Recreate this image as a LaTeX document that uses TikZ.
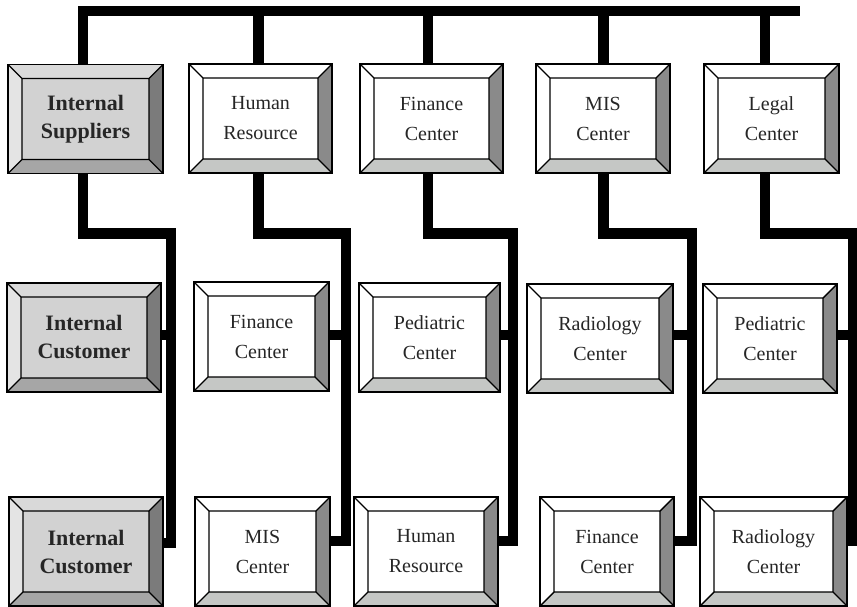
\documentclass[tikz,border=0pt]{standalone}
\usepackage{fontspec}
\setmainfont{Liberation Serif}
\usetikzlibrary{calc}

\definecolor{ink}{HTML}{262626}
% faces of the plain (white) boxes
\definecolor{wR}{HTML}{8A8A8A}
\definecolor{wB}{HTML}{C5C7C5}
% faces of the shaded boxes
\definecolor{gT}{HTML}{D9D9D9}
\definecolor{gL}{HTML}{E4E4E4}
\definecolor{gR}{HTML}{7B7B7B}
\definecolor{gB}{HTML}{A6A6A6}
\definecolor{gI}{HTML}{D2D2D2}

% bevelled frame: #1 top, #2 left, #3 right, #4 bottom, #5 face
\newcommand\bevelfaces[5]{%
  \path (path picture bounding box.north west) coordinate (bvNW)
        (path picture bounding box.north east) coordinate (bvNE)
        (path picture bounding box.south east) coordinate (bvSE)
        (path picture bounding box.south west) coordinate (bvSW)
        ([shift={(14pt,-14pt)}]path picture bounding box.north west) coordinate (bvnw)
        ([shift={(-14pt,-14pt)}]path picture bounding box.north east) coordinate (bvne)
        ([shift={(-14pt,14pt)}]path picture bounding box.south east) coordinate (bvse)
        ([shift={(14pt,14pt)}]path picture bounding box.south west) coordinate (bvsw);
  \fill[#1] (bvNW) -- (bvNE) -- (bvne) -- (bvnw) -- cycle;
  \fill[#2] (bvNW) -- (bvnw) -- (bvsw) -- (bvSW) -- cycle;
  \fill[#3] (bvNE) -- (bvSE) -- (bvse) -- (bvne) -- cycle;
  \fill[#4] (bvSW) -- (bvsw) -- (bvse) -- (bvSE) -- cycle;
  \fill[#5] (bvnw) rectangle (bvse);
  \draw[black, line width=1.4pt, line join=miter] (bvnw) rectangle (bvse)
     (bvNW) -- (bvnw) (bvNE) -- (bvne) (bvSE) -- (bvse) (bvSW) -- (bvsw);
}

\begin{document}
\begin{tikzpicture}[x=1pt, y=-1pt,
  box/.style={draw=black, line width=1.5pt, rectangle, inner sep=0pt,
              minimum height=109pt, align=center, text=ink},
  wbox/.style={box, font=\fontsize{20}{30}\selectfont,
               path picture={\bevelfaces{white}{white}{wR}{wB}{white}}},
  gbox/.style={box, font=\bfseries\fontsize{22}{28}\selectfont,
               path picture={\bevelfaces{gT}{gL}{gR}{gB}{gI}}},
  wire/.style={draw=black, line width=10.5pt, line join=miter}]

\useasboundingbox (0,0) rectangle (857,607);

% suppliers row
\node[gbox, minimum width=155pt] (A1) at (85.5,119)  {Internal\\Suppliers};
\node[wbox, minimum width=143pt] (B1) at (260.5,118.5) {Human\\Resource};
\node[wbox, minimum width=143pt] (C1) at (431.5,118.5) {Finance\\Center};
\node[wbox, minimum width=134pt] (D1) at (603,118.5)   {MIS\\Center};
\node[wbox, minimum width=135pt] (E1) at (771.5,118.5) {Legal\\Center};

% first customer row
\node[gbox, minimum width=154pt] (A2) at (84,337.5)    {Internal\\Customer};
\node[wbox, minimum width=135pt] (B2) at (261.5,336.5) {Finance\\Center};
\node[wbox, minimum width=141pt] (C2) at (429.5,337.5) {Pediatric\\Center};
\node[wbox, minimum width=146pt] (D2) at (600,338.5)   {Radiology\\Center};
\node[wbox, minimum width=134pt] (E2) at (770,338.5)   {Pediatric\\Center};

% second customer row
\node[gbox, minimum width=154pt] (A3) at (86,551.5)    {Internal\\Customer};
\node[wbox, minimum width=135pt] (B3) at (262.5,551.5) {MIS\\Center};
\node[wbox, minimum width=144pt] (C3) at (426,551.5)   {Human\\Resource};
\node[wbox, minimum width=134pt] (D3) at (607,551.5)   {Finance\\Center};
\node[wbox, minimum width=147pt] (E3) at (773.5,551.5) {Radiology\\Center};

% bus levels and riser positions
\coordinate (bus) at (0,11);
\coordinate (busend) at (800,11);
\coordinate (jog) at (0,233.5);
\coordinate (v1) at (171,0);
\coordinate (v2) at (346,0);
\coordinate (v3) at (513,0);
\coordinate (v4) at (692,0);
\coordinate (v5) at (853,0);

% stub points on the top and bottom of the supplier boxes
\coordinate (tA) at ([xshift=-2.5pt]A1.north);
\coordinate (tB) at ([xshift=-2pt]B1.north);
\coordinate (tC) at ([xshift=-3.5pt]C1.north);
\coordinate (tD) at ([xshift=0.5pt]D1.north);
\coordinate (tE) at ([xshift=-6.5pt]E1.north);
\coordinate (bA) at ([xshift=-2.5pt]A1.south);
\coordinate (bB) at ([xshift=-2pt]B1.south);
\coordinate (bC) at ([xshift=-3.5pt]C1.south);
\coordinate (bD) at ([xshift=0.5pt]D1.south);
\coordinate (bE) at ([xshift=-6.5pt]E1.south);

% side stubs on the customer boxes
\coordinate (mA) at ([yshift=2.5pt]A2.east);
\coordinate (mB) at ([yshift=1.5pt]B2.east);
\coordinate (mC) at ([yshift=2.5pt]C2.east);
\coordinate (mD) at ([yshift=3.5pt]D2.east);
\coordinate (mE) at ([yshift=3.5pt]E2.east);
\coordinate (rA) at ([yshift=8.5pt]A3.east);
\coordinate (rB) at ([yshift=10.5pt]B3.east);
\coordinate (rC) at ([yshift=10.5pt]C3.east);
\coordinate (rD) at ([yshift=10.5pt]D3.east);
\coordinate (rE) at ([yshift=10.5pt]E3.east);

% top bus
\draw[wire] (tA) |- (busend);
\foreach \s in {tB,tC,tD,tE} \draw[wire] (\s) -- (\s |- bus);

% supplier-to-customer chains
\draw[wire] (bA) |- (v1 |- jog) -- (v1 |- rA) -- (rA);
\draw[wire] (bB) |- (v2 |- jog) -- (v2 |- rB) -- (rB);
\draw[wire] (bC) |- (v3 |- jog) -- (v3 |- rC) -- (rC);
\draw[wire] (bD) |- (v4 |- jog) -- (v4 |- rD) -- (rD);
\draw[wire] (bE) |- (v5 |- jog) -- (v5 |- rE) -- (rE);

\draw[wire] (mA) -- (mA -| v1);
\draw[wire] (mB) -- (mB -| v2);
\draw[wire] (mC) -- (mC -| v3);
\draw[wire] (mD) -- (mD -| v4);
\draw[wire] (mE) -- (mE -| v5);

\end{tikzpicture}
\end{document}
